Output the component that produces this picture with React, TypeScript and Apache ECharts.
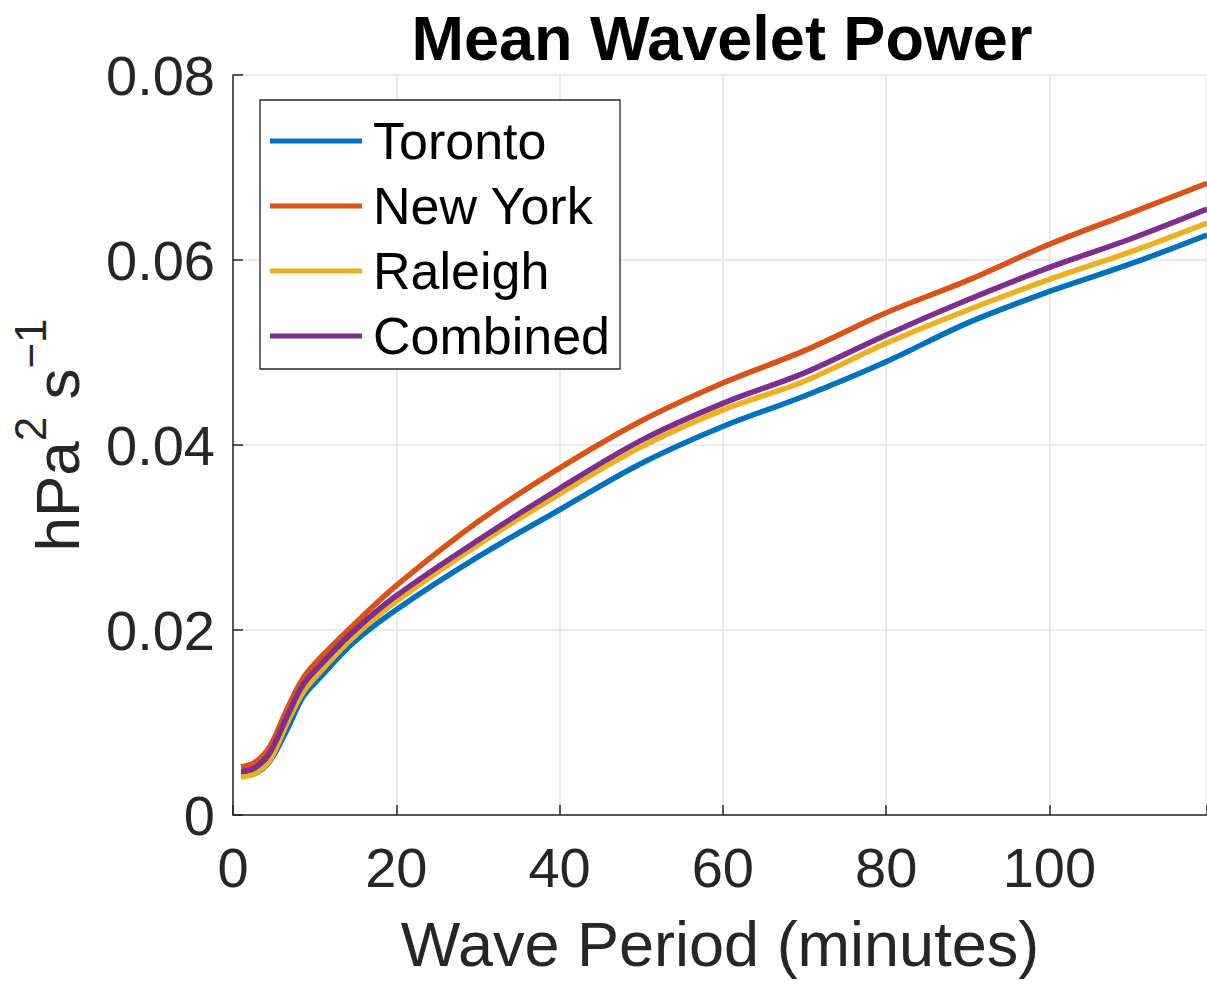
import React, { useEffect, useRef } from "react";
import * as echarts from "echarts";

const periods = [1, 2.7, 4.5, 6.6, 8.6, 10.7, 14.7, 20, 30, 40, 50, 60, 70, 80, 90, 100, 110, 119.3];
const toronto = [0.0043, 0.0045, 0.0058, 0.0092, 0.0128, 0.0149, 0.0186, 0.0222, 0.0279, 0.0330, 0.0380, 0.0420, 0.0453, 0.0490, 0.0532, 0.0566, 0.0596, 0.0627];
const newYork = [0.0052, 0.0057, 0.0074, 0.0114, 0.0148, 0.0170, 0.0205, 0.0248, 0.0317, 0.0375, 0.0426, 0.0467, 0.0502, 0.0543, 0.0578, 0.0617, 0.0651, 0.0683];
const raleigh = [0.0041, 0.0045, 0.0059, 0.0099, 0.0133, 0.0155, 0.0192, 0.0231, 0.0292, 0.0347, 0.0398, 0.0438, 0.0469, 0.0510, 0.0546, 0.0579, 0.0609, 0.0640];
const combined = [0.0047, 0.0051, 0.0067, 0.0106, 0.0141, 0.0162, 0.0198, 0.0237, 0.0297, 0.0353, 0.0405, 0.0445, 0.0478, 0.0519, 0.0557, 0.0592, 0.0623, 0.0655];

const seriesNames = ["Toronto", "New York", "Raleigh", "Combined"];
const seriesValues = [toronto, newYork, raleigh, combined];
const colors = ["#0072BD", "#D95319", "#EDB120", "#7E2F8E"];

const titleText = "Mean Wavelet Power";
const xName = "Wave Period (minutes)";

const FONT = "'Liberation Sans', Arial, Helvetica, sans-serif";
const AX = "#262626";

export default function App() {
  const ref = useRef<HTMLDivElement>(null);
  useEffect(() => {
    if (!ref.current) return;
    const chart = echarts.init(ref.current, null, { renderer: "svg" });
    chart.setOption({
      animation: false,
      backgroundColor: "#ffffff",
      textStyle: { fontFamily: FONT },
      grid: { left: 233, top: 75, right: 0, bottom: 169, containLabel: false, outerBoundsMode: "none" },
      graphic: [
        {
          type: "text",
          x: 722,
          y: 38,
          style: {
            text: titleText,
            fontFamily: FONT,
            fontSize: 63,
            fontWeight: "bold",
            fill: "#000000",
            align: "center",
            verticalAlign: "middle",
          },
        },
      ],
      legend: {
        orient: "vertical",
        left: 260,
        top: 100,
        padding: [13, 10, 5, 10],
        itemGap: 9,
        itemWidth: 92,
        itemHeight: 5,
        icon: "rect",
        backgroundColor: "#ffffff",
        borderColor: AX,
        borderWidth: 1.3,
        borderRadius: 0,
        textStyle: { fontFamily: FONT, fontSize: 52, color: "#000000", lineHeight: 56, padding: [0, 0, 0, 6] },
        data: seriesNames,
      },
      xAxis: {
        type: "value",
        min: 0,
        max: 119.3,
        interval: 20,
        name: xName,
        nameLocation: "middle",
        nameGap: 97,
        nameTextStyle: { fontFamily: FONT, fontSize: 63, color: AX },
        axisLine: { show: true, lineStyle: { color: AX, width: 1.5 } },
        axisTick: { show: true, inside: true, length: 10, lineStyle: { color: AX, width: 1.5 } },
        axisLabel: {
          fontFamily: FONT,
          fontSize: 56,
          color: AX,
          margin: 24,
          formatter: (v: number) => (Math.abs(v / 20 - Math.round(v / 20)) < 1e-6 ? String(Math.round(v)) : ""),
        },
        splitLine: { show: true, lineStyle: { color: "#e3e3e3", width: 1.5 } },
      },
      yAxis: {
        type: "value",
        min: 0,
        max: 0.08,
        interval: 0.02,
        name: "{b|hPa}{s|2}{b| s}{s|\u22121}",
        nameLocation: "middle",
        nameRotate: 90,
        nameGap: 145,
        nameTextStyle: {
          fontFamily: FONT,
          color: AX,
          padding: [0, 0, 0, 20],
          rich: {
            b: { fontFamily: FONT, fontSize: 62, color: AX, lineHeight: 80, verticalAlign: "bottom" },
            s: { fontFamily: FONT, fontSize: 44, color: AX, lineHeight: 80, verticalAlign: "top" },
          },
        },
        axisLine: { show: true, lineStyle: { color: AX, width: 1.5 } },
        axisTick: { show: true, inside: true, length: 10, lineStyle: { color: AX, width: 1.5 } },
        axisLabel: {
          fontFamily: FONT,
          fontSize: 56,
          color: AX,
          margin: 18,
          formatter: (v: number) => (v === 0 ? "0" : v.toFixed(2)),
        },
        splitLine: { show: true, lineStyle: { color: "#e3e3e3", width: 1.5 } },
      },
      series: seriesNames.map((name, i) => ({
        name,
        type: "line",
        data: periods.map((p, j) => [p, seriesValues[i][j]]),
        smooth: 0.35,
        showSymbol: false,
        symbol: "none",
        lineStyle: { color: colors[i], width: 5.5 },
        itemStyle: { color: colors[i] },
      })),
    });
    return () => chart.dispose();
  }, []);
  return (
    <div
      ref={ref}
      style={{ position: "fixed", left: 0, top: 0, width: 1207, height: 984, background: "#fff" }}
    />
  );
}
